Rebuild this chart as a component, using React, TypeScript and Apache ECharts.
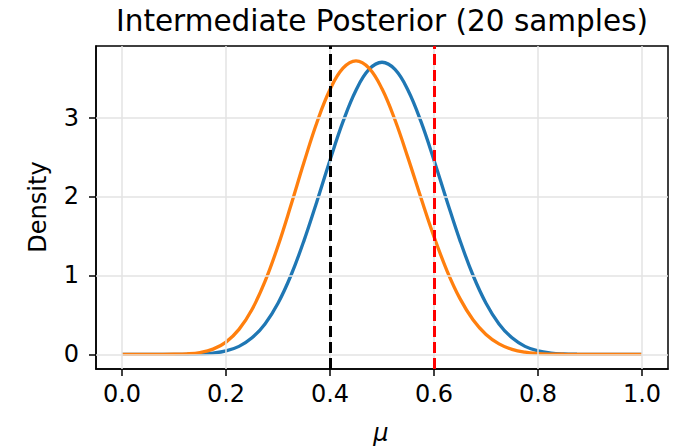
import React, { useEffect, useRef } from "react";
import * as echarts from "echarts";

const muGrid = [
  0, 0.025, 0.05, 0.075, 0.1, 0.125, 0.15, 0.175, 0.2, 0.225,
  0.25, 0.275, 0.3, 0.325, 0.35, 0.375, 0.4, 0.425, 0.45, 0.475,
  0.5, 0.525, 0.55, 0.575, 0.6, 0.625, 0.65, 0.675, 0.7, 0.725,
  0.75, 0.775, 0.8, 0.825, 0.85, 0.875, 0.9, 0.925, 0.95, 0.975, 1,
];

const blueDensity = [
  0, 0, 0, 0.00001, 0.00014, 0.00095, 0.0044, 0.0153, 0.0427, 0.1008,
  0.2084, 0.3851, 0.6471, 1.0016, 1.4408, 1.9405, 2.4599, 2.947, 3.3462, 3.6085,
  3.7,
  3.6085, 3.3462, 2.947, 2.4599, 1.9405, 1.4408, 1.0016, 0.6471, 0.3851,
  0.2084, 0.1008, 0.0427, 0.0153, 0.0044, 0.00095, 0.00014, 0.00001, 0, 0, 0,
];

const orangeDensity = [
  0, 0, 0, 0.0001, 0.0011, 0.0061, 0.0227, 0.0654, 0.1551, 0.3158,
  0.5683, 0.9228, 1.3727, 1.891, 2.4325, 2.9401, 3.3543, 3.6246, 3.718, 3.6258,
  3.3636, 2.968, 2.4889, 1.9801, 1.4908, 1.0585, 0.7053, 0.4384, 0.2521, 0.1328,
  0.0631, 0.0266, 0.0097, 0.0029, 0.0007, 0.0001, 0, 0, 0, 0, 0,
];

const xTicks = [0, 0.2, 0.4, 0.6, 0.8, 1.0];
const yTicks = [0, 1, 2, 3];
const blackLineAt = 0.4;
const redLineAt = 0.6;

const titleText = "Intermediate Posterior (20 samples)";
const xLabelText = "μ";
const yLabelText = "Density";

const FONT = "DejaVu Sans";

export default function App() {
  const ref = useRef<HTMLDivElement>(null);
  useEffect(() => {
    if (!ref.current) return;
    const chart = echarts.init(ref.current, null, { renderer: "svg" });
    const gridColor = "#e3e3e3";
    chart.setOption({
      animation: false,
      backgroundColor: "#ffffff",
      grid: {
        left: 96,
        top: 46,
        right: 6,
        bottom: 77,
        show: true,
        borderColor: "#000",
        borderWidth: 1.5,
        backgroundColor: "transparent",
      },
      xAxis: {
        type: "value",
        min: -0.05,
        max: 1.05,
        axisLine: { show: true, onZero: false, lineStyle: { color: "#000", width: 1.5 } },
        axisTick: {
          show: true,
          customValues: xTicks,
          length: 7,
          lineStyle: { color: "#000", width: 1.5 },
        },
        axisLabel: {
          customValues: xTicks,
          formatter: (v: number) => v.toFixed(1),
          color: "#000",
          fontSize: 24,
          fontFamily: FONT,
          margin: 13,
        },
        splitLine: { show: false },
      },
      yAxis: {
        type: "value",
        min: -0.186,
        max: 3.906,
        axisLine: { show: true, onZero: false, lineStyle: { color: "#000", width: 1.5 } },
        axisTick: {
          show: true,
          customValues: yTicks,
          length: 7,
          lineStyle: { color: "#000", width: 1.5 },
        },
        axisLabel: {
          customValues: yTicks,
          formatter: (v: number) => String(Math.round(v)),
          color: "#000",
          fontSize: 24,
          fontFamily: FONT,
          margin: 17,
        },
        splitLine: { show: false },
      },
      graphic: [
        {
          type: "text",
          x: 382,
          y: 21,
          style: {
            text: titleText,
            fontSize: 29.5,
            fontFamily: FONT,
            fill: "#000",
            align: "center",
            verticalAlign: "middle",
          },
        },
        {
          type: "text",
          x: 38,
          y: 207,
          rotation: Math.PI / 2,
          style: {
            text: yLabelText,
            fontSize: 24,
            fontFamily: FONT,
            fill: "#000",
            align: "center",
            verticalAlign: "middle",
          },
        },
        {
          type: "text",
          x: 381,
          y: 433,
          style: {
            text: xLabelText,
            fontSize: 24,
            fontStyle: "italic",
            fontFamily: FONT,
            fill: "#000",
            align: "center",
            verticalAlign: "middle",
          },
        },
      ],
      series: [
        {
          type: "line",
          data: [],
          z: 1,
          silent: true,
          markLine: {
            silent: true,
            symbol: "none",
            label: { show: false },
            animation: false,
            lineStyle: { color: gridColor, width: 1.5, type: "solid" },
            data: [
              ...xTicks.map((v) => ({ xAxis: v })),
              ...yTicks.map((v) => ({ yAxis: v })),
            ],
          },
        },
        {
          type: "line",
          name: "blue",
          data: muGrid.map((x, i) => [x, blueDensity[i]]),
          showSymbol: false,
          smooth: 0.4,
          z: 3,
          lineStyle: { color: "#1f77b4", width: 3.3 },
          itemStyle: { color: "#1f77b4" },
        },
        {
          type: "line",
          name: "orange",
          data: muGrid.map((x, i) => [x, orangeDensity[i]]),
          showSymbol: false,
          smooth: 0.4,
          z: 4,
          lineStyle: { color: "#ff7f0e", width: 3.3 },
          itemStyle: { color: "#ff7f0e" },
        },
        {
          type: "line",
          data: [],
          z: 5,
          silent: true,
          markLine: {
            silent: true,
            symbol: "none",
            label: { show: false },
            animation: false,
            data: [
              {
                xAxis: blackLineAt,
                lineStyle: { color: "#000", width: 3, type: [11, 5] },
              },
              {
                xAxis: redLineAt,
                lineStyle: { color: "#ff0000", width: 3, type: [11, 5] },
              },
            ],
          },
        },
      ],
    });
    return () => chart.dispose();
  }, []);
  return (
    <div
      ref={ref}
      style={{ position: "fixed", left: 0, top: 0, width: 674, height: 446 }}
    />
  );
}
